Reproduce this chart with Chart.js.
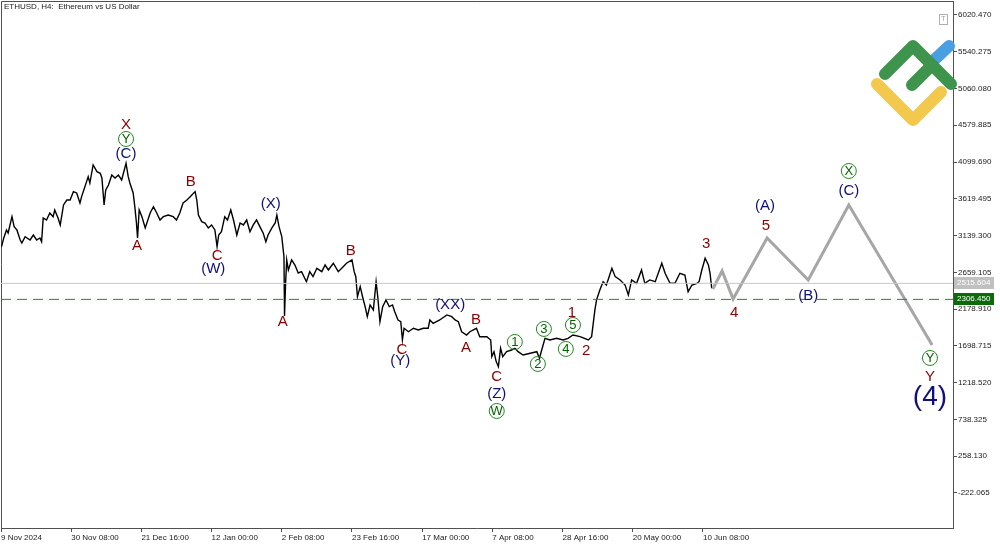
<!DOCTYPE html>
<html><head><meta charset="utf-8">
<script src="https://cdn.jsdelivr.net/npm/chart.js@4.4.1/dist/chart.umd.min.js"></script>
<style>html,body{margin:0;padding:0;background:#fff;overflow:hidden}#wrap{width:1000px;height:545px;position:relative}</style>
</head><body><div id="wrap"><canvas id="c" width="1000" height="545"></canvas></div>
<script>
// ---- data (bar index on H4 timeframe, price in USD) ----
const priceIdx = [1,5,10,13,20,24,29,35,38,44,53,59,65,71,74,77,83,89,95,98,104,108,111,114,120,126,132,138,144,147,153,159,162,168,175,181,184,188,191,196,202,208,214,220,228,232,235,241,244,247,249,252,257,263,269,
272,278,284,290,296,305,314,320,326,332,339,345,351,354,357,360,366,372,378,384,390,394,397,402,408,413,419,424,430,436,442,448,454,460,466,472,478,483,487,494,500,503,507,512,516,517,519,521,524,530,536,542,548,557,563,569,576,585,591,597,606,615,624,630,640,644,647,650,655,660,664,668,673,679,684,687,691,696,702,708,714,718,724,729,732,735,743,752,761,770,779,
782,788,800,813,822,828,834,840,849,855,867,873,886,893,895,899,903,907,911,915,922,931,937,943,952,965,977,982,986,992,1001,1013,1025,1034,1043,1056,1071,1077,1083,1086,1092,1098,1104,1114,1120,1129,1138,1144,1150,1159,1168,1174,1183,1193,1205,1211,1220,1229,1238,1247,1253,1260,1269,1273,1278,1284,1290,1293,1296];
const priceVal = [2995,3108,3213,3173,3386,3256,3213,3082,3043,3125,3082,3147,3082,3108,3060,3369,3343,3435,3386,3474,3369,3278,3408,3539,3604,3604,3713,3696,3565,3648,3778,3909,3826,4062,3974,3953,3892,3539,3735,3800,3931,3892,3931,3866,4084,3909,3826,3696,3517,3304,3108,3474,3386,3239,3369,
3435,3517,3435,3343,3386,3408,3386,3343,3435,3565,3604,3648,3692,3713,3604,3408,3321,3304,3239,3278,3213,2995,3147,3190,3386,3343,3474,3343,3147,3304,3278,3343,3190,3278,3343,3256,3173,3060,3147,3239,3304,3408,3256,3125,2864,2089,2520,2821,2690,2821,2755,2651,2668,2537,2668,2603,2712,2668,2755,2690,2778,2668,2733,2778,2821,2668,2603,2342,2472,2321,2211,2080,2233,2168,2537,2342,2015,2211,2298,2211,2233,2146,2037,2015,1776,1929,1884,1929,1907,1929,1929,
2037,1994,2037,2103,2080,2037,2015,1884,1841,1884,1929,1819,1819,1776,1558,1623,1493,1427,1668,1558,1623,1645,1668,1623,1580,1602,1623,1537,1645,1798,1776,1798,1776,1798,1841,1819,1776,1819,2168,2298,2429,2537,2494,2712,2603,2560,2494,2364,2560,2516,2690,2516,2560,2537,2778,2647,2516,2516,2647,2625,2407,2494,2516,2537,2690,2843,2755,2647,2451];
// forecast path (grey)
const projIdx = [1298,1315,1335,1397,1472,1546,1698];
const projVal = [2442,2677,2312,3108,2560,3539,1711];
// horizontal levels
const levelGray = 2515.604;
const levelGreen = 2306.450;
// axes
const yTickValues = [6020.470,5540.275,5060.080,4579.885,4099.690,3619.495,3139.300,2659.105,2178.910,1698.715,1218.520,738.325,258.130,-222.065];
const xTickIdx = [0,128,256,384,512,640,768,896,1024,1152,1280];
const xTickLabels = ['9 Nov 2024','30 Nov 08:00','21 Dec 16:00','12 Jan 00:00','2 Feb 08:00','23 Feb 16:00','17 Mar 00:00','7 Apr 08:00','28 Apr 16:00','20 May 00:00','10 Jun 08:00'];
// Elliott wave labels
const waveText  = ['X','Y','(C)','A','B','C','(W)','(X)','A','B','C','(Y)','(XX)','A','B','C','(Z)','W','1','2','3','4','5','1','2','3','5','(A)','4','(B)','X','(C)','Y','Y','(4)'];
const waveIdx   = [228,228,228,248,346,394,387,492,514,638,731,728,819,848,866,904,904,904,937,979,990,1030,1043,1041,1067,1286,1395,1393,1337,1472,1546,1546,1694,1694,1694];
const wavePrice = [4584,4401,4205,3004,3840,2873,2703,3552,2011,2938,1645,1502,2233,1672,2037,1293,1071,849,1750,1463,1920,1659,1972,2129,1632,3030,3265,3526,2129,2351,3983,3722,1541,1293,1032];
const waveKind  = ['r','g','b','r','r','r','b','b','r','r','r','b','b','r','r','r','b','g','g','g','g','g','g','r','r','r','r','b','r','b','g','b','g','r','big'];

const X_MAX = 1736, Y_MIN = -679.5, Y_MAX = 6203;
const SMALL = '"Liberation Sans", Arial, sans-serif';

const pts = (xs, ys) => xs.map((x, i) => ({x, y: ys[i]}));

const overlay = {
  id: 'overlay',
  beforeDatasetsDraw(chart) {
    const {ctx, chartArea: a} = chart;
    ctx.save();
    ctx.strokeStyle = '#505050'; ctx.lineWidth = 1;
    ctx.beginPath();
    ctx.moveTo(a.left + 0.5, a.bottom); ctx.lineTo(a.left + 0.5, a.top + 0.5); ctx.lineTo(a.right, a.top + 0.5);
    ctx.stroke();
    ctx.restore();
  },
  afterDatasetsDraw(chart) {
    const {ctx, chartArea: a, scales: {x, y}} = chart;
    ctx.save();
    // title
    ctx.font = '8px ' + SMALL;
    ctx.fillStyle = '#202020'; ctx.textBaseline = 'middle'; ctx.textAlign = 'left';
    ctx.fillText('ETHUSD, H4:  Ethereum vs US Dollar', 4, 7);
    // wave labels
    const colors = {r: '#8b0000', b: '#10107a', g: '#006400'};
    for (let i = 0; i < waveText.length; i++) {
      const px = x.getPixelForValue(waveIdx[i]);
      const py = y.getPixelForValue(wavePrice[i]);
      const k = waveKind[i];
      ctx.textAlign = 'center'; ctx.textBaseline = 'middle';
      if (k === 'g') {
        ctx.beginPath(); ctx.arc(px, py, 7.5, 0, Math.PI * 2);
        ctx.strokeStyle = '#1f8a1f'; ctx.lineWidth = 1; ctx.stroke();
        ctx.fillStyle = '#006400';
        ctx.font = '13px "Liberation Sans", Arial, sans-serif';
        ctx.fillText(waveText[i], px, py + 0.5);
      } else if (k === 'big') {
        ctx.fillStyle = '#10107a';
        ctx.font = '28px "Liberation Sans", Arial, sans-serif';
        ctx.fillText(waveText[i], px, py);
      } else {
        ctx.fillStyle = colors[k];
        ctx.font = '15px "Liberation Sans", Arial, sans-serif';
        ctx.fillText(waveText[i], px, py);
      }
    }
    // level price boxes on the axis
    const box = (v, bg) => {
      const py = Math.round(y.getPixelForValue(v));
      ctx.fillStyle = bg; ctx.fillRect(a.right + 1, py - 6, 40, 12);
      ctx.fillStyle = '#ffffff'; ctx.font = '8px ' + SMALL;
      ctx.textAlign = 'left'; ctx.textBaseline = 'middle';
      ctx.fillText(v.toFixed(3), a.right + 4, py);
    };
    box(levelGray, '#c0c0c0');
    box(levelGreen, '#0b6b0b');
    // small "T" button
    ctx.strokeStyle = '#b0b0b0'; ctx.lineWidth = 1;
    ctx.strokeRect(939.5, 14.5, 8, 10);
    ctx.fillStyle = '#a0a0a0'; ctx.font = '7px "Liberation Sans", Arial, sans-serif';
    ctx.textAlign = 'center'; ctx.fillText('T', 943.5, 19.5);
    // logo
    ctx.lineCap = 'round'; ctx.lineJoin = 'round'; ctx.lineWidth = 12;
    ctx.strokeStyle = '#f2c94c';
    ctx.beginPath(); ctx.moveTo(877, 84); ctx.lineTo(913, 120); ctx.lineTo(941, 92); ctx.stroke();
    ctx.strokeStyle = '#4a9fe0';
    ctx.beginPath(); ctx.moveTo(932, 62); ctx.lineTo(949, 46); ctx.stroke();
    ctx.strokeStyle = '#3f944d';
    ctx.beginPath(); ctx.moveTo(885, 74); ctx.lineTo(913, 46); ctx.lineTo(951, 84); ctx.stroke();
    ctx.beginPath(); ctx.moveTo(912, 85); ctx.lineTo(931, 66); ctx.stroke();
    ctx.restore();
  }
};

new Chart(document.getElementById('c'), {
  type: 'line',
  data: {
    datasets: [
      {data: [{x: 0, y: levelGray}, {x: X_MAX, y: levelGray}], borderColor: '#c8c8c8', borderWidth: 1, pointRadius: 0},
      {data: [{x: 0, y: levelGreen}, {x: X_MAX, y: levelGreen}], borderColor: '#228b22', borderWidth: 1, borderDash: [10, 6], pointRadius: 0},
      {data: pts(projIdx, projVal), borderColor: '#a6a6a6', borderWidth: 3, pointRadius: 0, borderJoinStyle: 'miter'},
      {data: pts(priceIdx, priceVal), borderColor: '#000000', borderWidth: 1.4, pointRadius: 0}
    ]
  },
  options: {
    responsive: false, animation: false, parsing: true,
    layout: {padding: {left: 1, top: 1, right: 0, bottom: 0}},
    plugins: {legend: {display: false}, tooltip: {enabled: false}},
    elements: {line: {tension: 0}},
    scales: {
      x: {
        type: 'linear', min: 0, max: X_MAX, position: 'bottom',
        afterBuildTicks: s => { s.ticks = xTickIdx.map(v => ({value: v})); },
        afterFit: s => { s.height = 17; s.paddingLeft = 0; s.paddingRight = 0; },
        ticks: {autoSkip: false, maxRotation: 0, align: 'start', padding: 1, color: '#202020',
          font: {family: SMALL, size: 8},
          callback: (v, i) => xTickLabels[i]},
        grid: {drawOnChartArea: false, tickLength: 4, color: '#505050'},
        border: {display: true, color: '#505050'}
      },
      y: {
        type: 'linear', min: Y_MIN, max: Y_MAX, position: 'right',
        afterBuildTicks: s => { s.ticks = yTickValues.map(v => ({value: v})); },
        afterFit: s => { s.width = 47; s.paddingTop = 0; s.paddingBottom = 0; },
        ticks: {padding: 1, color: '#202020',
          font: {family: SMALL, size: 8},
          callback: v => Number(v).toFixed(3)},
        grid: {drawOnChartArea: false, tickLength: 4, color: '#505050'},
        border: {display: true, color: '#505050'}
      }
    }
  },
  plugins: [overlay]
});
</script></body></html>
